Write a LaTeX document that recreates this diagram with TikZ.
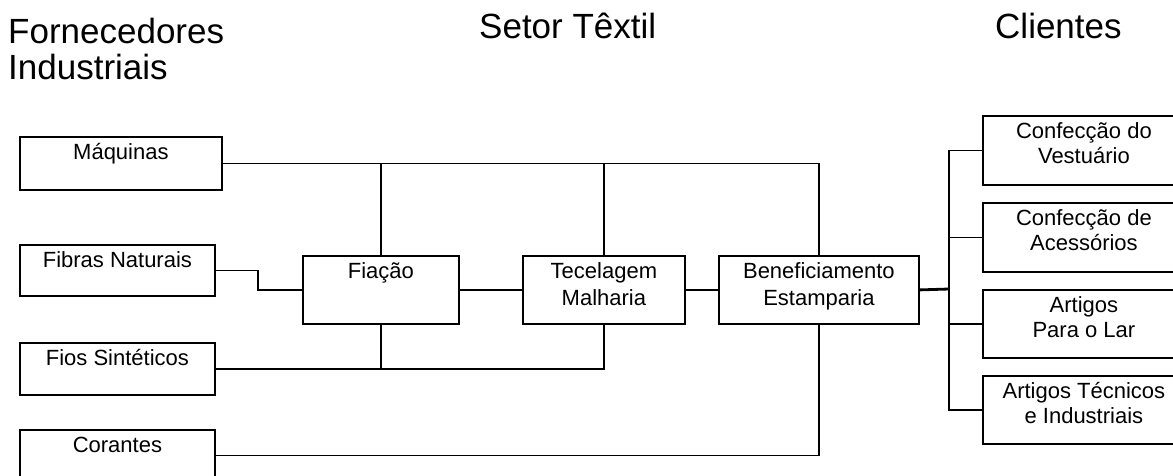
\documentclass[tikz,border=0pt]{standalone}
\usepackage{fontspec}
\setmainfont{Liberation Sans}
\usetikzlibrary{calc}

% box text: fixed-size frame, lines centred and hung from the top
\newcommand\bxtext[4]{\parbox[c][#2][t]{#1}{\centering\fontsize{22}{#3}\selectfont\rule{0pt}{23pt}#4}}

\tikzset{
  frame/.style={draw, line width=1.8pt, rectangle, inner sep=0pt, anchor=north west},
  link/.style={line width=1.8pt},
  heavylink/.style={line width=2.8pt},
  heading/.style={anchor=base west, inner sep=0pt, align=left,
                  font=\fontsize{35}{36}\selectfont},
}

\begin{document}
\begin{tikzpicture}[x=1pt, y=-1pt]
\useasboundingbox (0,0) rectangle (1173,475);

% column headings
\node[heading] (hforn) at (8,79) {Fornecedores\\Industriais};
\node[heading] (hsetor) at (479,38) {Setor Têxtil};
\node[heading] (hcli) at (995,38) {Clientes};

% suppliers
\node[frame] (maq) at (19,136) {\bxtext{202pt}{53pt}{27pt}{Máquinas}};
\node[frame] (fib) at (19,244) {\bxtext{195pt}{51pt}{27pt}{Fibras Naturais}};
\node[frame] (fios) at (19,342) {\bxtext{195pt}{52pt}{27pt}{Fios Sintéticos}};
\node[frame] (cor) at (19,429) {\bxtext{195pt}{51pt}{27pt}{Corantes}};

% textile chain
\node[frame] (fia) at (302,255) {\bxtext{156pt}{68pt}{27pt}{Fiação}};
\node[frame] (tec) at (522,255) {\bxtext{162pt}{68pt}{27pt}{Tecelagem\\Malharia}};
\node[frame] (ben) at (718,255) {\bxtext{200pt}{68pt}{27pt}{Beneficiamento\\Estamparia}};

% customers
\node[frame] (c1) at (982,115) {\bxtext{202pt}{69pt}{25pt}{Confecção do\\Vestuário}};
\node[frame] (c2) at (982,202) {\bxtext{202pt}{69pt}{25pt}{Confecção de\\Acessórios}};
\node[frame] (c3) at (982,289) {\bxtext{202pt}{68pt}{25pt}{Artigos\\Para o Lar}};
\node[frame] (c4) at (982,375) {\bxtext{202pt}{68pt}{25pt}{Artigos Técnicos\\e Industriais}};

\coordinate (fibbend) at (258,269);
\coordinate (bus) at (949,289);

% machines feed every stage
\draw[link] (maq.east) -| (ben.north);
\draw[link] (fia.north) -- (fia.north |- maq.east);
\draw[link] (tec.north) -- (tec.north |- maq.east);

% natural fibres into spinning
\draw[link] (fib.east) -- (fib.east -| fibbend) |- (fia.west);

% main chain
\draw[link] (fia.east) -- (tec.west);
\draw[link] (tec.east) -- (ben.west);

% synthetic yarns into spinning and weaving
\draw[link] (fios.east) -| (tec.south);
\draw[link] (fia.south) -- (fia.south |- fios.east);

% dyes into finishing
\draw[link] (cor.east) -| (ben.south);

% finishing out to the customers
\draw[heavylink] (ben.east) -- (bus);
\draw[link] (c1.west) -- (c1.west -| bus) -- (c4.west -| bus) -- (c4.west);
\draw[link] (c2.west) -- (c2.west -| bus);
\draw[link] (c3.west) -- (c3.west -| bus);
\end{tikzpicture}
\end{document}
